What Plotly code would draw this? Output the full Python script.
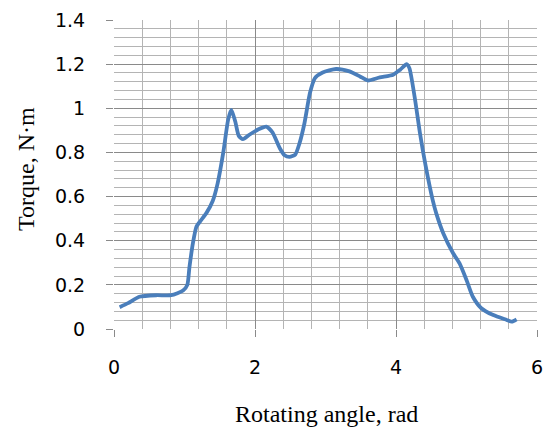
import plotly.graph_objects as go

angle = [0.08, 0.2, 0.36, 0.6, 0.81, 0.98, 1.04, 1.07, 1.12, 1.17, 1.22, 1.31, 1.40, 1.47, 1.55, 1.62, 1.665,
         1.72, 1.77, 1.83, 1.92, 2.05, 2.16, 2.25, 2.35, 2.42, 2.49, 2.57, 2.63, 2.70, 2.78, 2.85, 2.96,
         3.15, 3.34, 3.49, 3.60, 3.77, 3.96, 4.06, 4.15, 4.19, 4.27, 4.34, 4.42, 4.52, 4.57, 4.67, 4.81,
         4.90, 5.0, 5.09, 5.21, 5.38, 5.57, 5.64, 5.71]
torque = [0.099, 0.117, 0.146, 0.153, 0.153, 0.174, 0.2, 0.28, 0.39, 0.464, 0.487, 0.525, 0.58, 0.66, 0.80, 0.95, 0.993,
          0.94, 0.875, 0.86, 0.88, 0.905, 0.917, 0.89, 0.82, 0.787, 0.78, 0.79, 0.84, 0.93, 1.07, 1.137, 1.162,
          1.178, 1.167, 1.144, 1.126, 1.14, 1.152, 1.175, 1.20, 1.182, 1.04, 0.887, 0.74, 0.585, 0.525, 0.434, 0.343,
          0.298, 0.222, 0.146, 0.094, 0.063, 0.041, 0.033, 0.044]

x_ticks = [0, 2, 4, 6]
y_ticks = [0, 0.2, 0.4, 0.6, 0.8, 1.0, 1.2, 1.4]
y_labels = ["0", "0.2", "0.4", "0.6", "0.8", "1", "1.2", "1.4"]
x_title = "Rotating angle, rad"
y_title = "Torque, N·m"

L, R, T, B = 114, 7, 20, 101
W, H = 544, 430
pw, ph = W - L - R, H - T - B

fig = go.Figure()
fig.add_trace(go.Scatter(x=angle, y=torque, mode="lines",
                         line=dict(color="#4a7ebb", width=3.8, shape="spline", smoothing=0.6)))

tickfont = dict(family="DejaVu Sans", size=19, color="#000000")
titlefont = dict(family="Liberation Serif, Times New Roman, serif", size=24, color="#000000")

fig.update_layout(
    width=W, height=H,
    margin=dict(l=L, r=R, t=T, b=B, autoexpand=False),
    paper_bgcolor="white", plot_bgcolor="white",
    showlegend=False,
    xaxis=dict(range=[0, 6], tickvals=x_ticks, ticktext=[str(v) for v in x_ticks],
               showgrid=True, gridcolor="#8a8a8a", gridwidth=1,
               minor=dict(dtick=0.4, tick0=0, showgrid=True, gridcolor="#b4b4b4", gridwidth=1),
               ticks="outside", ticklen=7, tickcolor="#8a8a8a",
               ticklabelstandoff=14, tickfont=tickfont, automargin=False,
               zeroline=False, showline=False),
    yaxis=dict(range=[0, 1.4], tickvals=y_ticks, ticktext=y_labels,
               showgrid=True, gridcolor="#8a8a8a", gridwidth=1,
               minor=dict(dtick=0.04, tick0=0, showgrid=True, gridcolor="#b4b4b4", gridwidth=1),
               ticks="outside", ticklen=7, tickcolor="#8a8a8a",
               ticklabelstandoff=17, tickfont=tickfont, automargin=False,
               zeroline=False, showline=False),
)

fig.add_annotation(text=x_title, xref="paper", yref="paper",
                   x=(326 - L) / pw, y=(H - B - 414) / ph,
                   xanchor="center", yanchor="middle", showarrow=False, font=titlefont)
fig.add_annotation(text=y_title, xref="paper", yref="paper",
                   x=(26 - L) / pw, y=(H - B - 169) / ph, textangle=-90,
                   xanchor="center", yanchor="middle", showarrow=False, font=titlefont)

fig.write_html("out.html")
